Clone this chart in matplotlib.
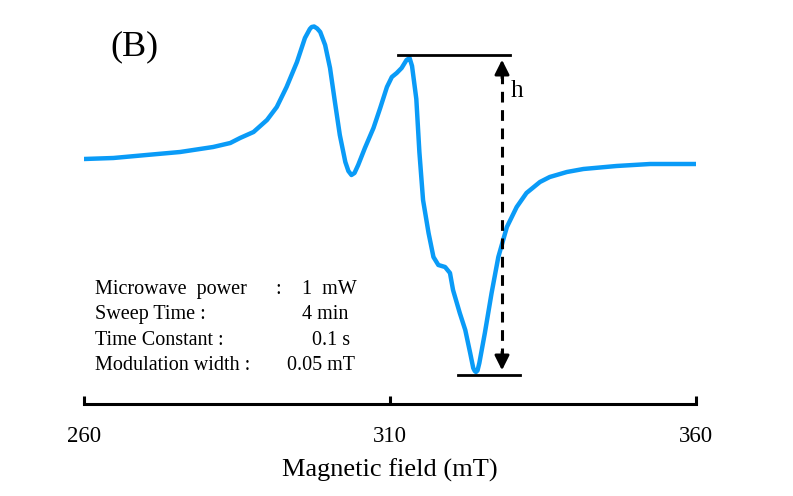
import matplotlib
matplotlib.use('Agg')
import matplotlib.pyplot as plt

# EPR spectrum (B), signal in arbitrary units
field = [260.0, 264.8, 270.2, 275.7, 281.1, 283.9, 285.5, 287.7, 289.9, 291.5,
         293.1, 294.8, 296.1, 296.9, 297.2, 297.6, 298.1, 298.6, 299.4, 300.2,
         301.0, 301.8, 302.7, 303.2, 303.7, 304.2, 304.8, 305.9, 307.3, 308.4,
         309.5, 310.3, 311.1, 311.9, 312.7, 313.2, 313.6, 314.3, 314.8, 315.4,
         316.3, 317.1, 317.9, 319.0, 319.8, 320.3, 321.4, 322.3, 323.1, 323.6,
         323.85, 324.05, 324.3, 324.6, 325.5, 326.6, 327.7, 329.1, 330.7, 332.3,
         334.5, 336.1, 338.9, 341.6, 347.0, 352.5, 360.0]
signal = [4, 5, 8, 11, 16, 20, 25, 31, 43, 56,
          76, 101, 125, 134, 136, 136.5, 134.5, 131, 118, 95,
          61, 28, 1, -8, -12, -10, -2, 15, 35, 55,
          76, 86, 90, 95, 103, 105, 97, 64, 11, -37,
          -70, -94, -102, -104, -110, -127, -150, -167, -190, -205,
          -208, -209, -207.5, -200, -170, -130, -94, -64, -44, -30,
          -19, -14, -9, -6, -3, -1, -1]

x_ticks = [260, 310, 360]
params = ['Microwave  power', 'Sweep Time :', 'Time Constant :', 'Modulation width :']
values = ['1  mW', '4 min', '0.1 s', '0.05 mT']

plt.rcParams['font.family'] = ['Liberation Serif', 'DejaVu Serif']

W, H = 793, 496
fig = plt.figure(figsize=(W / 100, H / 100), dpi=100)
ax = fig.add_axes([84 / W, 1 - 404 / H, (696 - 84) / W, 404 / H])

ax.plot(field, signal, color='#0A9BF7', lw=3.2,
        solid_capstyle='round', solid_joinstyle='round')
ax.set_xlim(260, 360)
ax.set_ylim(-241, 163)

for side in ['top', 'right', 'left']:
    ax.spines[side].set_visible(False)
ax.spines['bottom'].set_linewidth(2.2)
ax.set_yticks([])
ax.set_xticks(x_ticks)
ax.tick_params(axis='x', direction='in', length=6, width=2.2, labelsize=16.5, pad=16)
fig.text(390 / W, 1 - 470 / H, 'Magnetic field (mT)', fontsize=19,
         ha='center', va='center')

# peak-to-peak height marker
ax.plot([311.3, 329.6], [108, 108], color='k', lw=2)
ax.plot([321.1, 331.2], [-212, -212], color='k', lw=2)
ax.plot([328.3, 328.3], [90, -195], color='k', lw=2.2, ls=(0, (3.5, 2.5)))
ax.annotate('', xy=(328.3, 106), xytext=(328.3, 82),
            arrowprops=dict(arrowstyle='-|>', color='k', lw=2, mutation_scale=22))
ax.annotate('', xy=(328.3, -210), xytext=(328.3, -186),
            arrowprops=dict(arrowstyle='-|>', color='k', lw=2, mutation_scale=22))
fig.text(511 / W, 1 - 91 / H, 'h', fontsize=18, va='center', ha='left')

fig.text(110 / W, 1 - 47 / H, '(B)', fontsize=26, va='center', ha='left')

# measurement conditions
rows_y = [294, 319, 345, 370]
vals_x = [302, 302, 312, 287]
for lab, val, py, vx in zip(params, values, rows_y, vals_x):
    fig.text(95 / W, 1 - py / H, lab, fontsize=14.5, va='baseline', ha='left')
    fig.text(vx / W, 1 - py / H, val, fontsize=14.5, va='baseline', ha='left')
fig.text(275 / W, 1 - rows_y[0] / H, ':', fontsize=14.5, va='baseline', ha='left')

fig.savefig('out.png', dpi=100)
